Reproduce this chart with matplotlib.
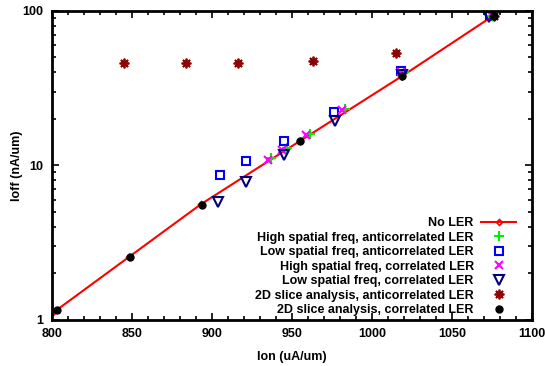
import matplotlib
matplotlib.use('Agg')
from matplotlib import pyplot as plt
from matplotlib.ticker import MultipleLocator, LogLocator, NullFormatter, FixedFormatter, FixedLocator

plt.rcParams['font.family'] = ['Liberation Sans', 'DejaVu Sans']
plt.rcParams['font.weight'] = 'bold'
plt.rcParams['font.size'] = 9

# Data
no_ler_x = [800, 848, 893, 955, 1019, 1075]
no_ler_y = [1.1, 2.55, 5.6, 14.4, 38, 92]

hi_anti_x = [937, 947, 961, 983, 1020, 1075]
hi_anti_y = [11.2, 12.9, 16.0, 23.2, 40.5, 93]

lo_anti_x = [905, 921, 945, 976, 1018, 1074]
lo_anti_y = [8.7, 10.7, 14.5, 22.3, 41, 94]

hi_corr_x = [935, 944, 959, 981, 1018, 1075]
hi_corr_y = [10.9, 12.6, 15.7, 22.9, 40.3, 93]

lo_corr_x = [904, 921, 945, 977, 1019, 1073]
lo_corr_y = [5.8, 7.8, 11.6, 19.4, 38.5, 92]

slice_anti_x = [845, 884, 916, 963, 1015, 1076]
slice_anti_y = [46.3, 46.3, 46.3, 47.7, 53.7, 93]

slice_corr_x = [803, 849, 894, 955, 1019, 1076]
slice_corr_y = [1.16, 2.56, 5.55, 14.4, 37.9, 92.8]

fig = plt.figure(figsize=(5.45, 3.66), dpi=100)
ax = fig.add_axes([0.0954, 0.126, 0.8807, 0.844])

ax.plot(no_ler_x, no_ler_y, color='red', lw=1.5, marker='D', ms=3,
        mfc='none', mew=1.2, label='No LER')
ax.plot(hi_anti_x, hi_anti_y, ls='none', marker='+', ms=7, mew=1.5,
        color='#00ee00', label='High spatial freq, anticorrelated LER')
ax.plot(lo_anti_x, lo_anti_y, ls='none', marker='s', ms=6, mew=1.5,
        mfc='none', color='blue', label='Low spatial freq, anticorrelated LER')
ax.plot(hi_corr_x, hi_corr_y, ls='none', marker='x', ms=6, mew=1.5,
        color='magenta', label='High spatial freq, correlated LER')
ax.plot(lo_corr_x, lo_corr_y, ls='none', marker='v', ms=7, mew=1.5,
        mfc='none', color='#000080', label='Low spatial freq, correlated LER')
ax.plot(slice_anti_x, slice_anti_y, ls='none', marker=(8, 2, 0), ms=7, mew=1.3,
        color='#8b0000', label='2D slice analysis, anticorrelated LER')
ax.plot(slice_corr_x, slice_corr_y, ls='none', marker='o', ms=5,
        color='black', label='2D slice analysis, correlated LER')

ax.set_xlim(800, 1100)
ax.set_yscale('log')
ax.set_ylim(1, 100)

ax.xaxis.set_major_locator(MultipleLocator(50))
ax.xaxis.set_minor_locator(MultipleLocator(10))
ax.yaxis.set_major_locator(FixedLocator([1, 10, 100]))
ax.yaxis.set_major_formatter(FixedFormatter(['1', '10', '100']))
ax.yaxis.set_minor_locator(LogLocator(base=10, subs=range(2, 10)))
ax.yaxis.set_minor_formatter(NullFormatter())

ax.tick_params(which='both', direction='in', top=True, right=True, width=1.2)
ax.tick_params(which='major', length=5, pad=6)
ax.tick_params(which='minor', length=3)
for s in ax.spines.values():
    s.set_linewidth(2)

ax.set_xlabel('Ion (uA/um)', fontweight='bold', labelpad=8)
ax.set_ylabel('Ioff (nA/um)', fontweight='bold', labelpad=0)

ax.legend(loc='lower right', bbox_to_anchor=(0.975, 0.0), frameon=False,
          markerfirst=False, handlelength=2.8, handletextpad=0.6,
          labelspacing=0.2, borderpad=0, borderaxespad=0.3, fontsize=9)

plt.savefig('out.png', dpi=100)
